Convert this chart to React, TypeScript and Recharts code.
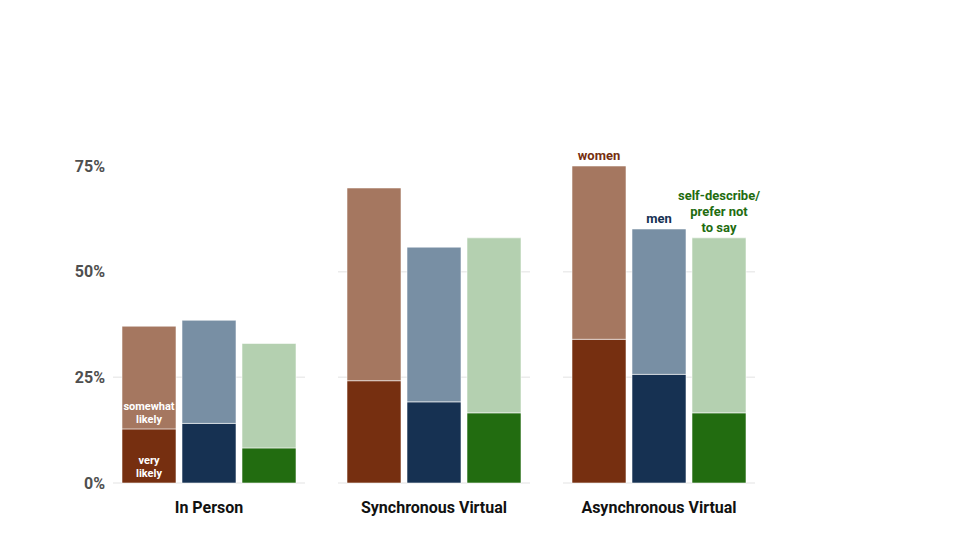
import { BarChart, Bar, XAxis, YAxis, CartesianGrid, LabelList } from 'recharts'

const MODES = ['In Person', 'Synchronous Virtual', 'Asynchronous Virtual']
const WOMEN_VERY = [12.8, 24.2, 34.0]
const WOMEN_SOMEWHAT = [24.3, 45.6, 41.0]
const MEN_VERY = [14.1, 19.2, 25.7]
const MEN_SOMEWHAT = [24.4, 36.6, 34.4]
const SELF_VERY = [8.3, 16.6, 16.6]
const SELF_SOMEWHAT = [24.7, 41.4, 41.4]
const Y_TICKS = [0, 25, 50, 75]

const COLORS = {
  womenVery: '#762f10',
  womenSomewhat: '#a57760',
  menVery: '#163152',
  menSomewhat: '#788fa4',
  selfVery: '#226c10',
  selfSomewhat: '#b4d0b0',
}

const PLOT_LEFT = [113, 338, 563]
const PLOT_WIDTH = 192
const AXIS_WIDTH = 60

function topLabel(lines: string[], color: string) {
  return (p: any) => {
    const cx = Number(p.x) + Number(p.width) / 2
    const base = Number(p.y) - 6
    return (
      <text x={cx} textAnchor="middle" fill={color} fontSize={13} fontWeight={700}>
        {lines.map((l, i) => (
          <tspan key={i} x={cx} y={base - (lines.length - 1 - i) * 16}>{l}</tspan>
        ))}
      </text>
    )
  }
}

function insideLabel(lines: string[]) {
  return (p: any) => {
    const cx = Number(p.x) + Number(p.width) / 2
    const base = Number(p.y) + Number(p.height) - 6
    return (
      <text x={cx} textAnchor="middle" fill="#ffffff" fontSize={11} fontWeight={700}>
        {lines.map((l, i) => (
          <tspan key={i} x={cx} y={base - (lines.length - 1 - i) * 13}>{l}</tspan>
        ))}
      </text>
    )
  }
}

function Panel({ i }: { i: number }) {
  const row = {
    mode: MODES[i],
    womenVery: WOMEN_VERY[i],
    womenSomewhat: WOMEN_SOMEWHAT[i],
    menVery: MEN_VERY[i],
    menSomewhat: MEN_SOMEWHAT[i],
    selfVery: SELF_VERY[i],
    selfSomewhat: SELF_SOMEWHAT[i],
  }
  const max = Math.max(
    row.womenVery + row.womenSomewhat,
    row.menVery + row.menSomewhat,
    row.selfVery + row.selfSomewhat,
  )
  // each panel only draws gridlines below its tallest bar
  const grid = Y_TICKS.filter(t => t < max)
  const showAxis = i === 0
  const isLast = i === MODES.length - 1
  const left = PLOT_LEFT[i] - (showAxis ? AXIS_WIDTH : 0)
  const rightPad = isLast ? 40 : 0
  const barStroke = { stroke: '#ffffff', strokeOpacity: 0.55, strokeWidth: 1 }

  return (
    <div style={{ position: 'absolute', left, top: 100 }}>
      <BarChart
        width={(showAxis ? AXIS_WIDTH : 0) + PLOT_WIDTH + rightPad}
        height={440}
        data={[row]}
        margin={{ top: 66, right: rightPad, bottom: 17, left: 0 }}
        barCategoryGap={9}
        barGap={6}
      >
        <CartesianGrid vertical={false} horizontalValues={grid} stroke="#ececec" strokeWidth={1.5} />
        <XAxis
          dataKey="mode"
          axisLine={false}
          tickLine={false}
          tickSize={0}
          tickMargin={19}
          height={40}
          tick={{ fill: '#111111', fontSize: 16, fontWeight: 700 }}
        />
        <YAxis
          hide={!showAxis}
          width={AXIS_WIDTH}
          domain={[0, 75]}
          ticks={Y_TICKS}
          axisLine={false}
          tickLine={false}
          tickSize={0}
          tickMargin={8}
          tickFormatter={(v: number) => `${v}%`}
          tick={{ fill: '#4f4f4f', fontSize: 16, fontWeight: 700 }}
        />
        <Bar dataKey="womenVery" stackId="w" fill={COLORS.womenVery} {...barStroke} isAnimationActive={false}>
          {showAxis && <LabelList dataKey="womenVery" content={insideLabel(['very', 'likely'])} />}
        </Bar>
        <Bar dataKey="womenSomewhat" stackId="w" fill={COLORS.womenSomewhat} {...barStroke} isAnimationActive={false}>
          {showAxis && <LabelList dataKey="womenSomewhat" content={insideLabel(['somewhat', 'likely'])} />}
          {isLast && <LabelList dataKey="womenSomewhat" content={topLabel(['women'], '#762f10')} />}
        </Bar>
        <Bar dataKey="menVery" stackId="m" fill={COLORS.menVery} {...barStroke} isAnimationActive={false} />
        <Bar dataKey="menSomewhat" stackId="m" fill={COLORS.menSomewhat} {...barStroke} isAnimationActive={false}>
          {isLast && <LabelList dataKey="menSomewhat" content={topLabel(['men'], '#163152')} />}
        </Bar>
        <Bar dataKey="selfVery" stackId="s" fill={COLORS.selfVery} {...barStroke} isAnimationActive={false} />
        <Bar dataKey="selfSomewhat" stackId="s" fill={COLORS.selfSomewhat} {...barStroke} isAnimationActive={false}>
          {isLast && (
            <LabelList
              dataKey="selfSomewhat"
              content={topLabel(['self-describe/', 'prefer not', 'to say'], '#226c10')}
            />
          )}
        </Bar>
      </BarChart>
    </div>
  )
}

export default function App() {
  return (
    <div
      style={{
        position: 'absolute',
        left: 0,
        top: 0,
        width: 960,
        height: 540,
        background: '#ffffff',
        fontFamily: 'Roboto, sans-serif',
      }}
    >
      {MODES.map((_, i) => (
        <Panel key={i} i={i} />
      ))}
    </div>
  )
}
